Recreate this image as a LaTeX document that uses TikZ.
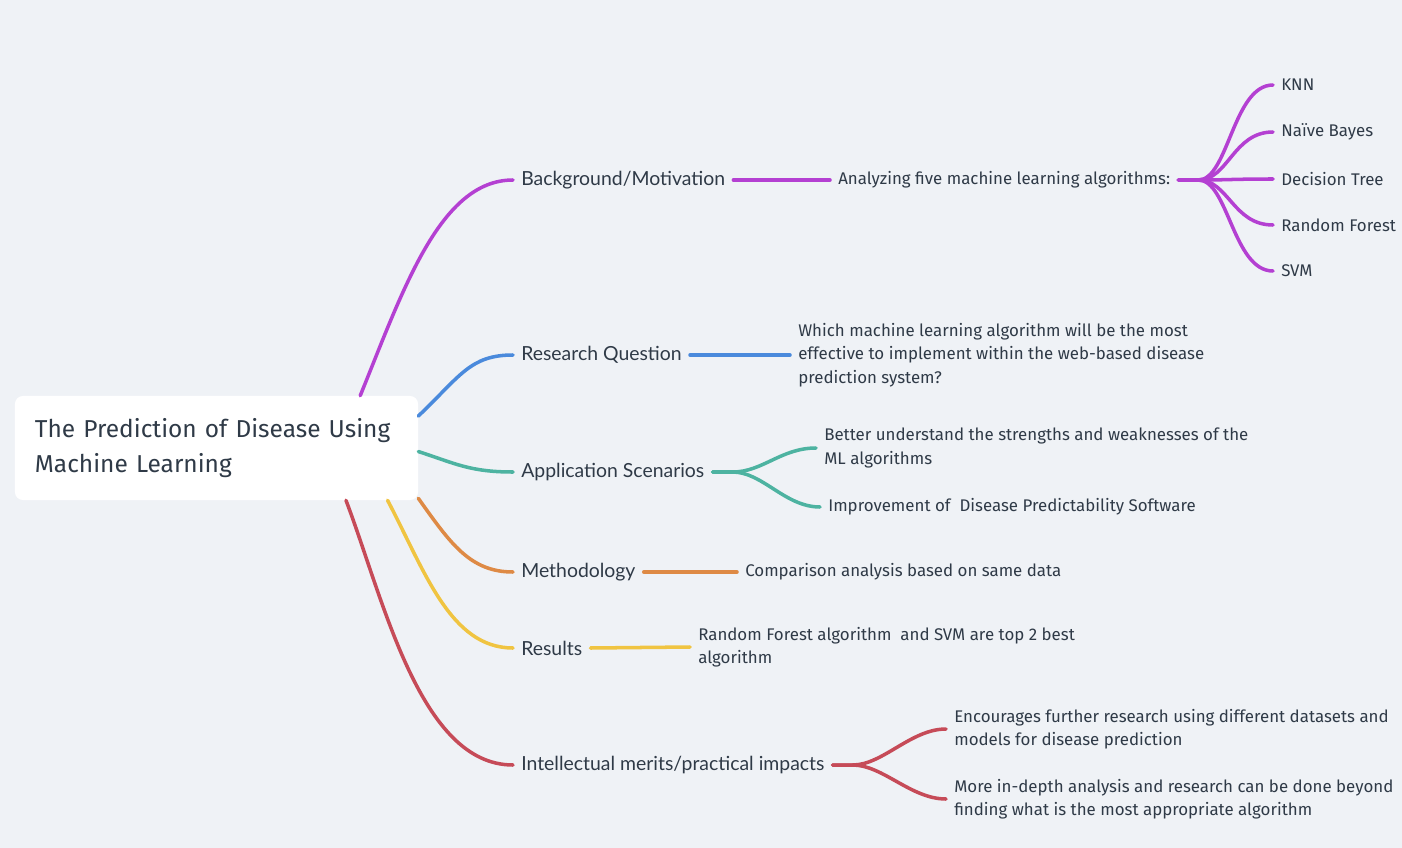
\documentclass[tikz,border=0pt]{standalone}
\usepackage{fontspec}
\setmainfont{Fira Sans}
\newfontfamily\branchfont{Lato}
\usepackage{tikz}
\usetikzlibrary{positioning}

\definecolor{bgpaper}{HTML}{EFF2F6}
\definecolor{inktext}{HTML}{2F3A47}
\definecolor{cpurple}{HTML}{B440D2}
\definecolor{cblue}{HTML}{4A8ADC}
\definecolor{cteal}{HTML}{4DB3A1}
\definecolor{corange}{HTML}{DE8A45}
\definecolor{cyellow}{HTML}{F0C441}
\definecolor{cred}{HTML}{C64B58}

\begin{document}
\begin{tikzpicture}[
    x=0.025cm, y=-0.025cm,
    every node/.style={text=inktext},
    root/.style={fill=white, rounded corners=0.2cm, inner xsep=0.5cm,
                 minimum width=10.075cm, minimum height=2.6cm,
                 text width=9.075cm, align=left,
                 font=\fontsize{17.4}{24.9}\selectfont},
    branch/.style={anchor=west, inner xsep=0.2cm, inner ysep=0pt,
                   font=\branchfont\fontsize{13.8}{16}\selectfont},
    leaf/.style={anchor=west, inner xsep=0.2cm, inner ysep=0pt, align=left,
                 font=\fontsize{12}{16.7}\selectfont},
    link/.style={line width=2.5pt, line cap=round}
]
\fill[bgpaper] (0,0) rectangle (1402,848);
\useasboundingbox (0,0) rectangle (1402,848);

% root
\node[root] (root) at (216.5,448) {The Prediction of Disease Using\\Machine Learning};

% branches
\node[branch] (bg)    at (513,180) {Background/Motivation};
\node[branch] (rq)    at (513,355) {Research Question};
\node[branch] (app)   at (513,472) {Application Scenarios};
\node[branch] (meth)  at (513,572) {Methodology};
\node[branch] (res)   at (513,648) {Results};
\node[branch] (merit) at (513,765) {Intellectual merits/practical impacts};

% leaves
\node[leaf] (algos)   at (830,180)  {Analyzing five machine learning algorithms:};
\node[leaf] (knn)     at (1273,85)  {KNN};
\node[leaf] (bayes)   at (1273,132) {Naïve Bayes};
\node[leaf] (dtree)   at (1273,179) {Decision Tree};
\node[leaf] (rforest) at (1273,225) {Random Forest};
\node[leaf] (svm)     at (1273,271) {SVM};
\node[leaf] (rqtext)  at (790,355)  {Which machine learning algorithm will be the most\\effective to implement within the web-based disease\\prediction system?};
\node[leaf] (appa)    at (816,448)  {Better understand the strengths and weaknesses of the\\ML algorithms};
\node[leaf] (appb)    at (820,507)  {Improvement of\ \ Disease Predictability Software};
\node[leaf] (methtext) at (737,572) {Comparison analysis based on same data};
\node[leaf] (restext) at (690,647)  {Random Forest algorithm\ \ and SVM are top 2 best\\algorithm};
\node[leaf] (merita)  at (946,729)  {Encourages further research using different datasets and\\models for disease prediction};
\node[leaf] (meritb)  at (946,799)  {More in-depth analysis and research can be done beyond\\finding what is the most appropriate algorithm};

% root to branches
\draw[link, cpurple] (root.20)  .. controls +(43,-106) and +(-73,0) .. (bg.west);
\draw[link, cblue]   (root.9)   .. controls +(42,-40)  and +(-43,0) .. (rq.west);
\draw[link, cteal]   (root.-1)  .. controls +(37,12)   and +(-43,0) .. (app.west);
\draw[link, corange] (root.-14) .. controls +(32,45)   and +(-43,0) .. (meth.west);
\draw[link, cyellow] (root.-17) .. controls +(37,70)   and +(-63,0) .. (res.west);
\draw[link, cred]    (root.-22) .. controls +(38,100)  and +(-93,0) .. (merit.west);

% branches to leaves
\draw[link, cpurple] (bg.east) -- (algos.west);
\foreach \alg in {knn, bayes, dtree, rforest, svm}
  \draw[link, cpurple] (algos.east) -- ++(20,0) .. controls +(30,0) and +(-40,0) .. (\alg.west);
\draw[link, cblue] (rq.east) -- (rqtext.west);
\foreach \sc in {appa, appb}
  \draw[link, cteal] (app.east) -- ++(20,0) .. controls +(30,0) and +(-35,0) .. (\sc.west);
\draw[link, corange] (meth.east) -- (methtext.west);
\draw[link, cyellow] (res.east) -- (restext.west);
\foreach \im in {merita, meritb}
  \draw[link, cred] (merit.east) -- ++(20,0) .. controls +(30,0) and +(-35,0) .. (\im.west);
\end{tikzpicture}
\end{document}
